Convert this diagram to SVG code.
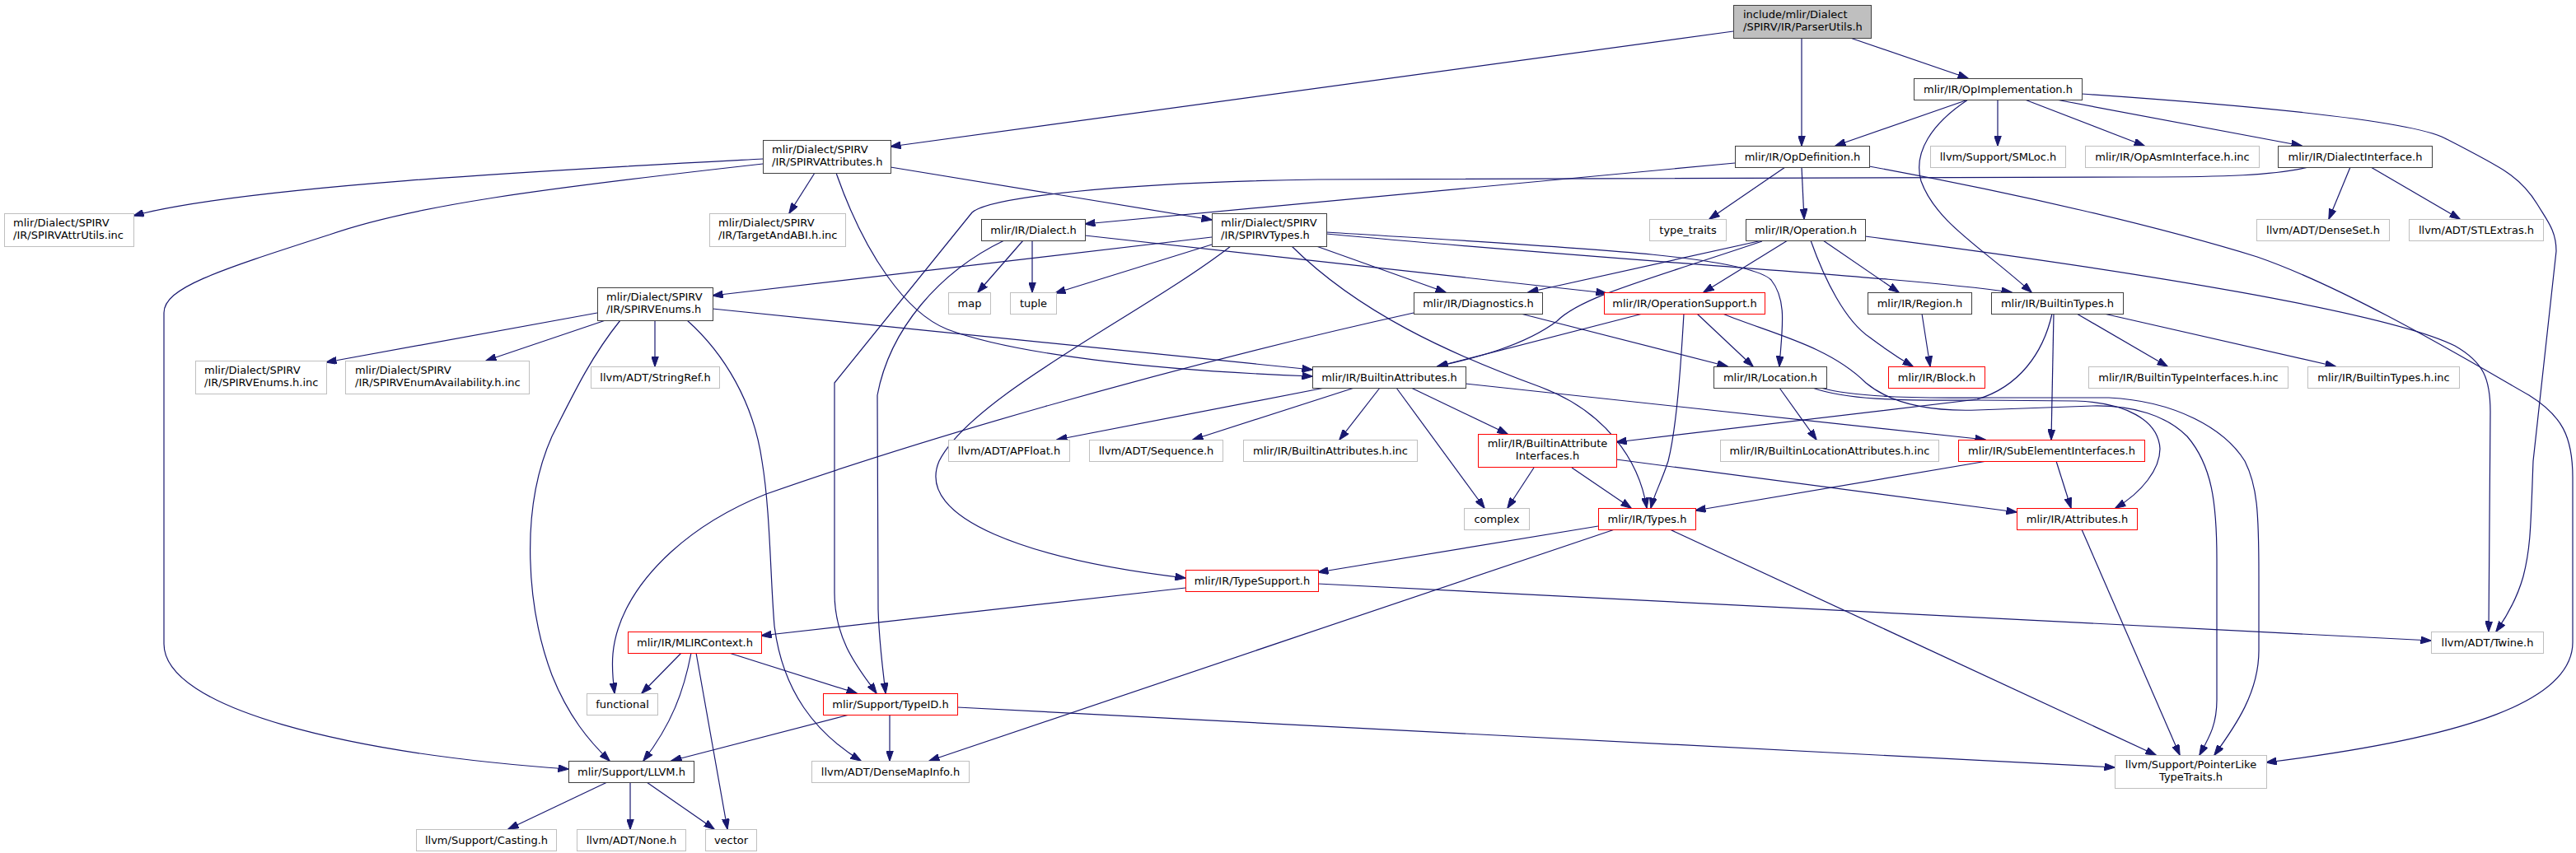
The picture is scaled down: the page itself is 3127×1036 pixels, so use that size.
<svg xmlns="http://www.w3.org/2000/svg" width="3127" height="1036" viewBox="0 0 3127 1036">
<style>
rect{fill:#fff;stroke-width:1}
.b rect{stroke:#404040}
.g rect{stroke:#bfbfbf}
.r rect{stroke:#ff0000}
.root rect{fill:#bfbfbf;stroke:#404040}
text{font-family:"DejaVu Sans",Verdana,sans-serif;font-size:13px;fill:#000}
.c{text-anchor:middle}
#edges path{fill:none;stroke:#191970;stroke-width:1.2}
</style>
<defs>
<marker id="ah" viewBox="0 0 13 9" refX="12.5" refY="4.5" markerWidth="13" markerHeight="9" markerUnits="userSpaceOnUse" orient="auto"><path d="M0,0 L13,4.5 L0,9 z" fill="#191970" stroke="#191970"/></marker>
</defs>
<rect x="0" y="0" width="3127" height="1036" style="fill:#fff;stroke:none"/>
<g id="edges">
<path d="M2104,38 L1081,178" marker-end="url(#ah)"/>
<path d="M2187,46 L2187,177" marker-end="url(#ah)"/>
<path d="M2246,46 L2389,95" marker-end="url(#ah)"/>
<path d="M2389,121 L2228,177" marker-end="url(#ah)"/>
<path d="M2425,121 L2425,177" marker-end="url(#ah)"/>
<path d="M2458,121 L2603,177" marker-end="url(#ah)"/>
<path d="M2496,121 L2794,177" marker-end="url(#ah)"/>
<path d="M2527,114 C2760,130 2930,148 2968,168 C3040,205 3060,215 3080,248 C3092,268 3103,280 3103,305 L3075,560 C3072,640 3072,665 3063,700 C3056,725 3042,750 3030,767" marker-end="url(#ah)"/>
<path d="M2389,121 C2345,150 2322,185 2332,220 C2350,270 2405,300 2466,355" marker-end="url(#ah)"/>
<path d="M926,193 C700,205 300,225 162,262" marker-end="url(#ah)"/>
<path d="M926,199 C650,230 500,250 400,285 C260,330 199,350 199,380 L199,782 C199,860 420,915 690,934" marker-end="url(#ah)"/>
<path d="M989,210 L958,259" marker-end="url(#ah)"/>
<path d="M1015,210 C1050,310 1100,380 1150,400 C1230,430 1400,450 1593,457" marker-end="url(#ah)"/>
<path d="M1081,203 L1471,267" marker-end="url(#ah)"/>
<path d="M2106,198 L1317,272" marker-end="url(#ah)"/>
<path d="M2167,203 L2075,266" marker-end="url(#ah)"/>
<path d="M2187,203 L2190,266" marker-end="url(#ah)"/>
<path d="M2269,202 C2450,235 2620,275 2740,312 C2850,350 3000,440 3070,480 C3110,505 3123,530 3123,580 L3123,780 C3123,850 3000,895 2751,926" marker-end="url(#ah)"/>
<path d="M2802,203 C2760,213 2700,215 2600,215 L1600,218 C1350,222 1200,240 1180,258 L1013,465 L1013,720 C1013,780 1045,815 1064,842" marker-end="url(#ah)"/>
<path d="M1317,286 L1950,356" marker-end="url(#ah)"/>
<path d="M1242,292 L1187,355" marker-end="url(#ah)"/>
<path d="M1253,292 L1253,355" marker-end="url(#ah)"/>
<path d="M1219,292 C1140,330 1080,400 1065,480 L1066,740 C1067,780 1072,815 1075,842" marker-end="url(#ah)"/>
<path d="M1471,288 L865,359" marker-end="url(#ah)"/>
<path d="M1471,297 L1281,356" marker-end="url(#ah)"/>
<path d="M1598,299 L1755,355" marker-end="url(#ah)"/>
<path d="M1494,299 C1390,380 1180,480 1140,560 C1110,630 1250,680 1439,702" marker-end="url(#ah)"/>
<path d="M1568,299 C1650,380 1760,430 1870,470 C1950,500 1990,560 1999,617" marker-end="url(#ah)"/>
<path d="M1610,282 C1900,300 2120,310 2150,340 C2170,365 2163,400 2160,445" marker-end="url(#ah)"/>
<path d="M1610,284 C2000,320 2300,335 2442,355" marker-end="url(#ah)"/>
<path d="M795,389 L795,445" marker-end="url(#ah)"/>
<path d="M725,380 L396,440" marker-end="url(#ah)"/>
<path d="M735,389 L590,438" marker-end="url(#ah)"/>
<path d="M753,389 C720,430 700,470 670,530 C630,620 640,740 670,820 C690,870 715,900 740,924" marker-end="url(#ah)"/>
<path d="M834,389 C880,430 915,490 925,560 C935,620 935,700 940,760 C950,840 990,890 1045,924" marker-end="url(#ah)"/>
<path d="M865,375 L1593,449" marker-end="url(#ah)"/>
<path d="M2139,292 L1855,355" marker-end="url(#ah)"/>
<path d="M2139,293 C2000,340 1920,360 1890,390 C1850,420 1790,435 1745,445" marker-end="url(#ah)"/>
<path d="M2170,292 L2068,355" marker-end="url(#ah)"/>
<path d="M2213,292 L2305,355" marker-end="url(#ah)"/>
<path d="M2198,292 C2215,340 2240,390 2270,410 C2290,425 2305,435 2322,445" marker-end="url(#ah)"/>
<path d="M2264,287 C2600,330 2900,380 2980,420 C3015,440 3023,460 3023,500 L3021,767" marker-end="url(#ah)"/>
<path d="M1994,381 L1745,445" marker-end="url(#ah)"/>
<path d="M2044,381 C2040,450 2035,520 2025,560 C2015,590 2008,600 2004,617" marker-end="url(#ah)"/>
<path d="M2060,381 L2128,445" marker-end="url(#ah)"/>
<path d="M2091,381 C2150,405 2220,420 2265,465 C2295,490 2340,500 2400,498 L2540,493 C2590,492 2630,505 2655,530 C2685,565 2691,610 2691,680 L2691,850 C2691,880 2682,895 2670,917" marker-end="url(#ah)"/>
<path d="M1716,380 C1400,450 1100,540 930,600 C830,640 780,700 760,740 C740,780 742,810 746,842" marker-end="url(#ah)"/>
<path d="M1846,381 L2097,445" marker-end="url(#ah)"/>
<path d="M2333,381 L2343,445" marker-end="url(#ah)"/>
<path d="M2491,381 C2480,430 2450,470 2400,485 L1962,537" marker-end="url(#ah)"/>
<path d="M2493,381 L2490,534" marker-end="url(#ah)"/>
<path d="M2521,381 L2631,445" marker-end="url(#ah)"/>
<path d="M2554,381 L2835,445" marker-end="url(#ah)"/>
<path d="M2853,203 L2827,266" marker-end="url(#ah)"/>
<path d="M2878,203 L2986,266" marker-end="url(#ah)"/>
<path d="M1608,471 L1283,534" marker-end="url(#ah)"/>
<path d="M1644,471 L1448,534" marker-end="url(#ah)"/>
<path d="M1675,471 L1626,534" marker-end="url(#ah)"/>
<path d="M1695,471 L1802,617" marker-end="url(#ah)"/>
<path d="M1713,471 L1830,527" marker-end="url(#ah)"/>
<path d="M1779,466 L2410,534" marker-end="url(#ah)"/>
<path d="M2160,471 L2205,534" marker-end="url(#ah)"/>
<path d="M2200,471 C2240,485 2300,487 2400,486 L2520,487 C2580,489 2620,510 2622,545 C2622,570 2600,598 2568,617" marker-end="url(#ah)"/>
<path d="M2210,471 C2250,482 2320,484 2420,483 L2560,483 C2640,487 2700,520 2725,560 C2740,590 2742,620 2742,700 L2742,790 C2742,840 2715,880 2688,917" marker-end="url(#ah)"/>
<path d="M1862,568 L1830,617" marker-end="url(#ah)"/>
<path d="M1908,568 L1980,617" marker-end="url(#ah)"/>
<path d="M1962,558 L2448,622" marker-end="url(#ah)"/>
<path d="M2412,560 L2058,620" marker-end="url(#ah)"/>
<path d="M2496,560 L2514,617" marker-end="url(#ah)"/>
<path d="M1940,639 L1600,695" marker-end="url(#ah)"/>
<path d="M1960,643 L1128,924" marker-end="url(#ah)"/>
<path d="M2027,643 L2617,917" marker-end="url(#ah)"/>
<path d="M2527,643 L2646,917" marker-end="url(#ah)"/>
<path d="M1439,714 L924,772" marker-end="url(#ah)"/>
<path d="M1600,709 L2951,778" marker-end="url(#ah)"/>
<path d="M827,793 L779,842" marker-end="url(#ah)"/>
<path d="M839,793 C830,840 815,880 781,924" marker-end="url(#ah)"/>
<path d="M845,793 L883,1007" marker-end="url(#ah)"/>
<path d="M885,793 L1040,842" marker-end="url(#ah)"/>
<path d="M1031,868 L815,924" marker-end="url(#ah)"/>
<path d="M1080,868 L1080,924" marker-end="url(#ah)"/>
<path d="M1162,859 L2567,932" marker-end="url(#ah)"/>
<path d="M737,950 L617,1007" marker-end="url(#ah)"/>
<path d="M765,950 L765,1007" marker-end="url(#ah)"/>
<path d="M785,950 L867,1007" marker-end="url(#ah)"/>
</g>
<g id="n_parserutils" class="root"><rect x="2104.5" y="6.5" width="167" height="40"/><text x="2116" y="22">include/mlir/Dialect</text><text x="2116" y="37">/SPIRV/IR/ParserUtils.h</text></g>
<g id="n_opimpl" class="b"><rect x="2323.5" y="95.5" width="204" height="26"/><text class="c" x="2425.5" y="113">mlir/IR/OpImplementation.h</text></g>
<g id="n_spirvattributes" class="b"><rect x="926.5" y="170.5" width="155" height="40"/><text x="937" y="186">mlir/Dialect/SPIRV</text><text x="937" y="201">/IR/SPIRVAttributes.h</text></g>
<g id="n_opdefinition" class="b"><rect x="2106.5" y="177.5" width="163" height="26"/><text class="c" x="2188" y="195">mlir/IR/OpDefinition.h</text></g>
<g id="n_smloc" class="g"><rect x="2343.5" y="177.5" width="164" height="26"/><text class="c" x="2425.5" y="195">llvm/Support/SMLoc.h</text></g>
<g id="n_opasminterface" class="g"><rect x="2531.5" y="177.5" width="211" height="26"/><text class="c" x="2637" y="195">mlir/IR/OpAsmInterface.h.inc</text></g>
<g id="n_dialectinterface" class="b"><rect x="2765.5" y="177.5" width="187" height="26"/><text class="c" x="2859" y="195">mlir/IR/DialectInterface.h</text></g>
<g id="n_spirvattrutils" class="g"><rect x="5.5" y="259.5" width="157" height="40"/><text x="16" y="275">mlir/Dialect/SPIRV</text><text x="16" y="290">/IR/SPIRVAttrUtils.inc</text></g>
<g id="n_targetandabi" class="g"><rect x="861.5" y="259.5" width="165" height="40"/><text x="872" y="275">mlir/Dialect/SPIRV</text><text x="872" y="290">/IR/TargetAndABI.h.inc</text></g>
<g id="n_dialect" class="b"><rect x="1191.5" y="266.5" width="126" height="26"/><text class="c" x="1254.5" y="284">mlir/IR/Dialect.h</text></g>
<g id="n_spirvtypes" class="b"><rect x="1471.5" y="259.5" width="139" height="40"/><text x="1482" y="275">mlir/Dialect/SPIRV</text><text x="1482" y="290">/IR/SPIRVTypes.h</text></g>
<g id="n_type_traits" class="g"><rect x="2002.5" y="266.5" width="93" height="26"/><text class="c" x="2049" y="284">type_traits</text></g>
<g id="n_operation" class="b"><rect x="2119.5" y="266.5" width="145" height="26"/><text class="c" x="2192" y="284">mlir/IR/Operation.h</text></g>
<g id="n_denseset" class="g"><rect x="2739.5" y="266.5" width="161" height="26"/><text class="c" x="2820" y="284">llvm/ADT/DenseSet.h</text></g>
<g id="n_stlextras" class="g"><rect x="2924.5" y="266.5" width="163" height="26"/><text class="c" x="3006" y="284">llvm/ADT/STLExtras.h</text></g>
<g id="n_spirvenums" class="b"><rect x="725.5" y="349.5" width="140" height="40"/><text x="736" y="365">mlir/Dialect/SPIRV</text><text x="736" y="380">/IR/SPIRVEnums.h</text></g>
<g id="n_map" class="g"><rect x="1151.5" y="355.5" width="51" height="26"/><text class="c" x="1177" y="373">map</text></g>
<g id="n_tuple" class="g"><rect x="1226.5" y="355.5" width="56" height="26"/><text class="c" x="1254.5" y="373">tuple</text></g>
<g id="n_diagnostics" class="b"><rect x="1716.5" y="355.5" width="156" height="26"/><text class="c" x="1794.5" y="373">mlir/IR/Diagnostics.h</text></g>
<g id="n_operationsupport" class="r"><rect x="1947.5" y="355.5" width="195" height="26"/><text class="c" x="2045" y="373">mlir/IR/OperationSupport.h</text></g>
<g id="n_region" class="b"><rect x="2267.5" y="355.5" width="126" height="26"/><text class="c" x="2330.5" y="373">mlir/IR/Region.h</text></g>
<g id="n_builtintypes" class="b"><rect x="2417.5" y="355.5" width="160" height="26"/><text class="c" x="2497.5" y="373">mlir/IR/BuiltinTypes.h</text></g>
<g id="n_spirvenumsinc" class="g"><rect x="237.5" y="438.5" width="159" height="40"/><text x="248" y="454">mlir/Dialect/SPIRV</text><text x="248" y="469">/IR/SPIRVEnums.h.inc</text></g>
<g id="n_spirvenumavail" class="g"><rect x="419.5" y="438.5" width="223" height="40"/><text x="431" y="454">mlir/Dialect/SPIRV</text><text x="431" y="469">/IR/SPIRVEnumAvailability.h.inc</text></g>
<g id="n_stringref" class="g"><rect x="717.5" y="445.5" width="156" height="26"/><text class="c" x="795.5" y="463">llvm/ADT/StringRef.h</text></g>
<g id="n_builtinattributes" class="b"><rect x="1593.5" y="445.5" width="186" height="26"/><text class="c" x="1686.5" y="463">mlir/IR/BuiltinAttributes.h</text></g>
<g id="n_location" class="b"><rect x="2080.5" y="445.5" width="137" height="26"/><text class="c" x="2149" y="463">mlir/IR/Location.h</text></g>
<g id="n_block" class="r"><rect x="2292.5" y="445.5" width="117" height="26"/><text class="c" x="2351" y="463">mlir/IR/Block.h</text></g>
<g id="n_builtintypeinterfacesinc" class="g"><rect x="2535.5" y="445.5" width="242" height="26"/><text class="c" x="2656.5" y="463">mlir/IR/BuiltinTypeInterfaces.h.inc</text></g>
<g id="n_builtintypesinc" class="g"><rect x="2801.5" y="445.5" width="184" height="26"/><text class="c" x="2893.5" y="463">mlir/IR/BuiltinTypes.h.inc</text></g>
<g id="n_apfloat" class="g"><rect x="1151.5" y="534.5" width="147" height="26"/><text class="c" x="1225" y="552">llvm/ADT/APFloat.h</text></g>
<g id="n_sequence" class="g"><rect x="1322.5" y="534.5" width="162" height="26"/><text class="c" x="1403.5" y="552">llvm/ADT/Sequence.h</text></g>
<g id="n_builtinattributesinc" class="g"><rect x="1509.5" y="534.5" width="211" height="26"/><text class="c" x="1615" y="552">mlir/IR/BuiltinAttributes.h.inc</text></g>
<g id="n_builtinattrinterfaces" class="r"><rect x="1794.5" y="527.5" width="168" height="40"/><text class="c" x="1878.5" y="543">mlir/IR/BuiltinAttribute</text><text class="c" x="1878.5" y="558">Interfaces.h</text></g>
<g id="n_builtinlocattrsinc" class="g"><rect x="2088.5" y="534.5" width="265" height="26"/><text class="c" x="2221" y="552">mlir/IR/BuiltinLocationAttributes.h.inc</text></g>
<g id="n_subelementinterfaces" class="r"><rect x="2377.5" y="534.5" width="226" height="26"/><text class="c" x="2490.5" y="552">mlir/IR/SubElementInterfaces.h</text></g>
<g id="n_complex" class="g"><rect x="1777.5" y="617.5" width="79" height="26"/><text class="c" x="1817" y="635">complex</text></g>
<g id="n_types" class="r"><rect x="1940.5" y="617.5" width="118" height="26"/><text class="c" x="1999.5" y="635">mlir/IR/Types.h</text></g>
<g id="n_attributes" class="r"><rect x="2448.5" y="617.5" width="146" height="26"/><text class="c" x="2521.5" y="635">mlir/IR/Attributes.h</text></g>
<g id="n_typesupport" class="r"><rect x="1439.5" y="692.5" width="161" height="26"/><text class="c" x="1520" y="710">mlir/IR/TypeSupport.h</text></g>
<g id="n_mlircontext" class="r"><rect x="762.5" y="767.5" width="162" height="26"/><text class="c" x="843.5" y="785">mlir/IR/MLIRContext.h</text></g>
<g id="n_twine" class="g"><rect x="2951.5" y="767.5" width="136" height="26"/><text class="c" x="3019.5" y="785">llvm/ADT/Twine.h</text></g>
<g id="n_functional" class="g"><rect x="712.5" y="842.5" width="86" height="26"/><text class="c" x="755.5" y="860">functional</text></g>
<g id="n_typeid" class="r"><rect x="999.5" y="842.5" width="163" height="26"/><text class="c" x="1081" y="860">mlir/Support/TypeID.h</text></g>
<g id="n_llvm" class="b"><rect x="690.5" y="924.5" width="152" height="26"/><text class="c" x="766.5" y="942">mlir/Support/LLVM.h</text></g>
<g id="n_densemapinfo" class="g"><rect x="985.5" y="924.5" width="191" height="26"/><text class="c" x="1081" y="942">llvm/ADT/DenseMapInfo.h</text></g>
<g id="n_pointerlike" class="g"><rect x="2567.5" y="917.5" width="184" height="40"/><text class="c" x="2659.5" y="933">llvm/Support/PointerLike</text><text class="c" x="2659.5" y="948">TypeTraits.h</text></g>
<g id="n_casting" class="g"><rect x="505.5" y="1007.5" width="170" height="26"/><text class="c" x="590.5" y="1025">llvm/Support/Casting.h</text></g>
<g id="n_none" class="g"><rect x="700.5" y="1007.5" width="132" height="26"/><text class="c" x="766.5" y="1025">llvm/ADT/None.h</text></g>
<g id="n_vector" class="g"><rect x="856.5" y="1007.5" width="62" height="26"/><text class="c" x="887.5" y="1025">vector</text></g>
</svg>
